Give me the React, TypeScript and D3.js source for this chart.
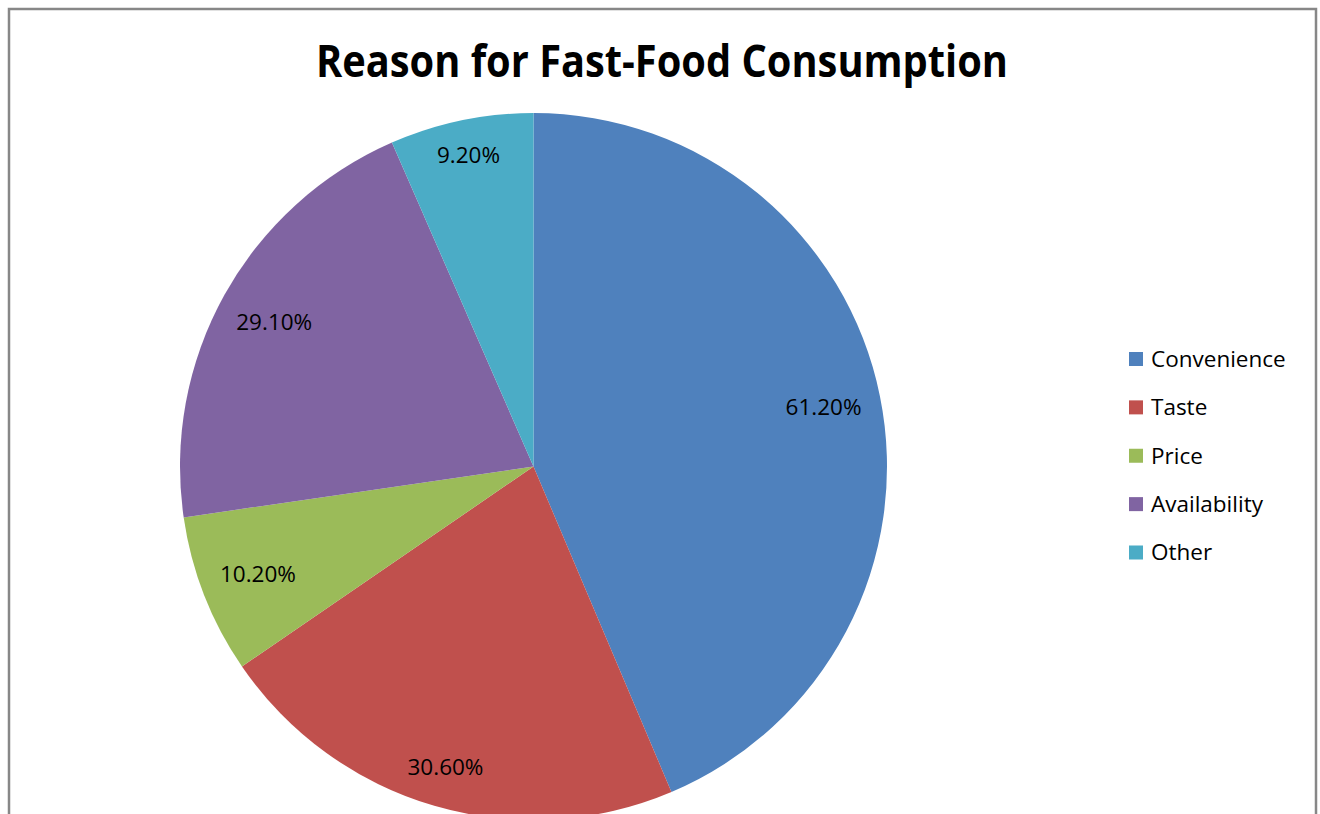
import React from "react";
import * as d3 from "d3";

const categories = ["Convenience", "Taste", "Price", "Availability", "Other"];
const values = [61.2, 30.6, 10.2, 29.1, 9.2];
const labels = ["61.20%", "30.60%", "10.20%", "29.10%", "9.20%"];
const colors = ["#4F81BD", "#C0504D", "#9BBB59", "#8064A2", "#4BACC6"];
const title = "Reason for Fast-Food Consumption";

const W = 1320;
const H = 814;
const cx = 533.5;
const cy = 466.5;
const R = 353.5;
const labelOuter = 336; // outer extent of the label box from centre
const charW = 6.4; // half-width per character of a label
const halfH = 12;

export default function App() {
  const data = categories.map((c, i) => ({ name: c, value: values[i], label: labels[i], color: colors[i] }));
  const pie = d3.pie<any>().value((d) => d.value).sort(null);
  const arcs = pie(data);
  const arc = d3.arc<any>().innerRadius(0).outerRadius(R);
  const font = "'Open Sans', 'DejaVu Sans', sans-serif";
  const legendY = d3.scalePoint<string>().domain(categories).range([359, 552.5]);

  return (
    <svg width={W} height={H} style={{ position: "absolute", left: 0, top: 0, background: "#fff" }}>
      <rect x={0} y={0} width={W} height={H} fill="#fff" />
      <rect x={9} y={9} width={1307} height={900} fill="#fff" stroke="#878787" strokeWidth={2.5} />
      <text
        x={662}
        y={77}
        textAnchor="middle"
        fontFamily={font}
        fontWeight="bold"
        fontSize={44}
        textLength={692}
        lengthAdjust="spacingAndGlyphs"
        fill="#000"
      >
        {title}
      </text>
      <g transform={`translate(${cx},${cy})`}>
        {arcs.map((a, i) => (
          <path key={i} d={arc(a) as string} fill={a.data.color} />
        ))}
        {arcs.map((a, i) => {
          const mid = (a.startAngle + a.endAngle) / 2;
          const s = Math.sin(mid);
          const c = -Math.cos(mid);
          const hw = a.data.label.length * charW;
          const d = labelOuter - (hw * Math.abs(s) + halfH * Math.abs(c));
          const x = d * s;
          const y = d * c;
          return (
            <text key={"l" + i} x={x} y={y} dy="0.35em" textAnchor="middle" fontFamily={font} fontSize={22.5} fill="#000">
              {a.data.label}
            </text>
          );
        })}
      </g>
      <g>
        {categories.map((c, i) => (
          <g key={c} transform={`translate(1129,${legendY(c)})`}>
            <rect x={0} y={-7} width={14} height={14} fill={colors[i]} />
            <text x={22} y={0} dy="0.35em" fontFamily={font} fontSize={22.5} fill="#000">
              {c}
            </text>
          </g>
        ))}
      </g>
    </svg>
  );
}
